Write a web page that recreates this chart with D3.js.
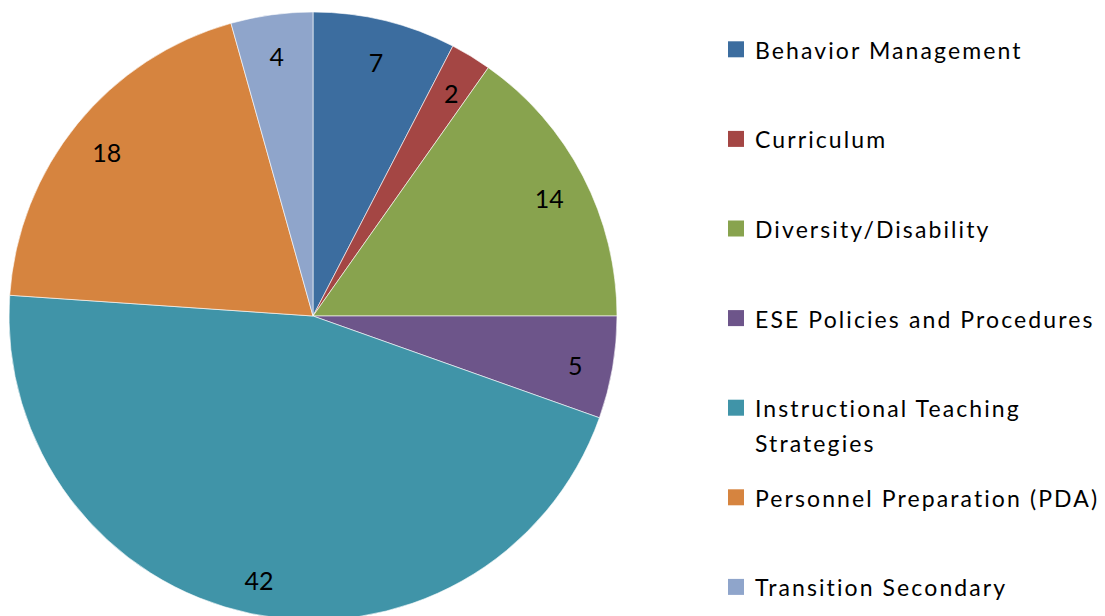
<!DOCTYPE html>
<html><head><meta charset="utf-8">
<script src="https://cdn.jsdelivr.net/npm/d3@7"></script>
<style>body{margin:0;background:#fff}svg{display:block}</style>
</head><body>
<svg id="c" width="1105" height="616"></svg>
<script>
const categories = ["Behavior Management","Curriculum","Diversity/Disability","ESE Policies and Procedures","Instructional Teaching Strategies","Personnel Preparation (PDA)","Transition Secondary"];
const values = [7,2,14,5,42,18,4];
const colors = ["#3C6D9F","#A44644","#88A34E","#6D558A","#4094A8","#D6843F","#8FA5CB"];
const legendLines = [["Behavior Management"],["Curriculum"],["Diversity/Disability"],["ESE Policies and Procedures"],["Instructional Teaching","Strategies"],["Personnel Preparation (PDA)"],["Transition Secondary"]];

const svg = d3.select("#c");
const cx = 313, cy = 316, R = 304;
const data = categories.map((c,i)=>({c, v: values[i], col: colors[i]}));
const pie = d3.pie().value(d=>d.v).sort(null);
const arc = d3.arc().innerRadius(0).outerRadius(R);
const labelArc = d3.arc().innerRadius(266).outerRadius(266);
const g = svg.append("g").attr("transform",`translate(${cx},${cy})`);
const arcs = pie(data);
g.selectAll("path").data(arcs).join("path")
  .attr("d", arc).attr("fill", d=>d.data.col)
  .attr("stroke","rgba(255,255,255,0.6)").attr("stroke-width",1);
g.selectAll("text").data(arcs).join("text")
  .attr("transform", d=>{ const p = labelArc.centroid(d); return `translate(${p[0]},${p[1]+4})`; })
  .attr("text-anchor","middle").attr("dominant-baseline","central")
  .style("font-family","Lato, 'Open Sans', sans-serif").style("font-size","25px").attr("fill","#000")
  .text(d=>d.data.v);

const ly0 = 49.3, lstep = 89.6;
const lg = svg.append("g");
legendLines.forEach((lines,i)=>{
  const y = ly0 + i*lstep;
  lg.append("rect").attr("x",728).attr("y",y-8).attr("width",16).attr("height",16).attr("fill",colors[i]);
  lines.forEach((t,j)=>{
    lg.append("text").attr("x",755).attr("y",y+9.5+j*35)
      .style("font-family","Lato, 'Open Sans', sans-serif").style("font-size","23px")
      .style("letter-spacing","2.1px").attr("fill","#000")
      .text(t);
  });
});
</script>
</body></html>
